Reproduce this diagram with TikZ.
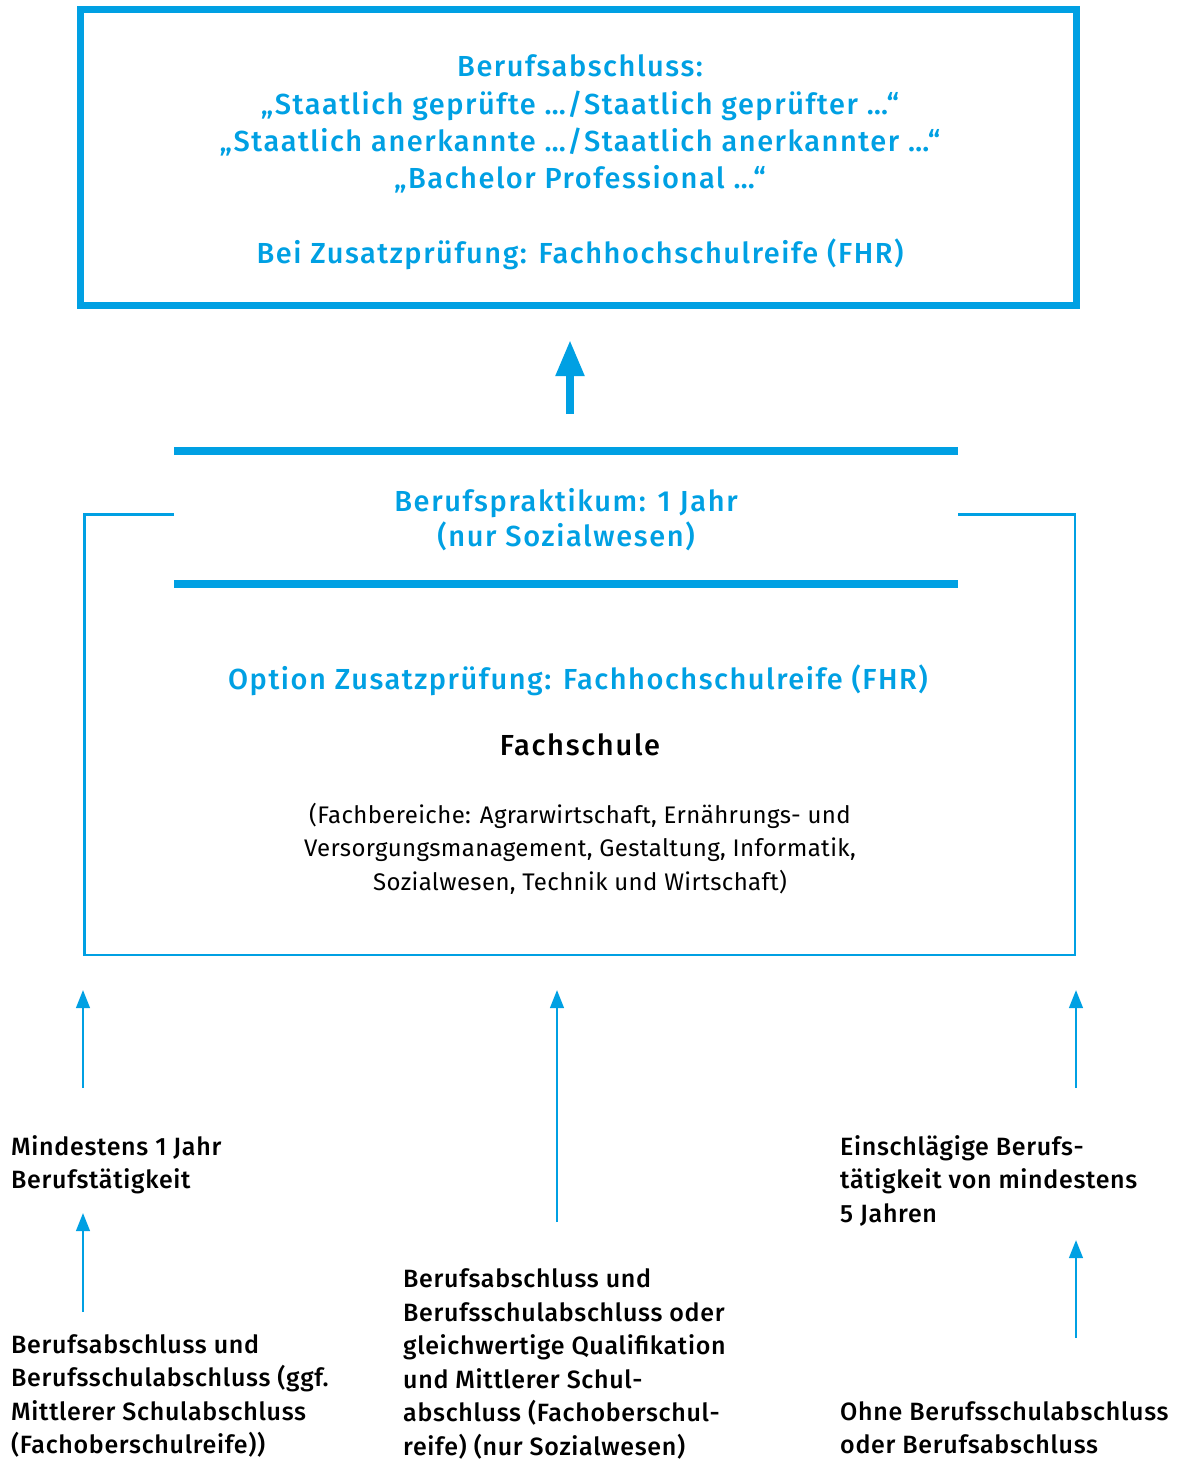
\documentclass[tikz,border=0pt]{standalone}
\usepackage{fontspec}
\setmainfont{Fira Sans}[BoldFont={Fira Sans Medium}]
\usetikzlibrary{arrows.meta}
\definecolor{bpblue}{RGB}{0,160,227}
\newcommand\hstrut{\rule{0pt}{0.9em}}
\begin{document}
\begin{tikzpicture}[x=1pt,y=-1pt,
  bluetxt/.style={text=bpblue, font=\fontsize{29}{37.3}\selectfont\bfseries\addfontfeature{LetterSpace=5.3}, inner sep=0, align=center},
  blacktxt/.style={text=black, font=\fontsize{25}{33.5}\selectfont\bfseries\addfontfeature{LetterSpace=2.8}, inner sep=0, align=left, anchor=north west},
  regtxt/.style={text=black, font=\fontsize{24}{33.4}\selectfont\addfontfeature{LetterSpace=1.6}, inner sep=0, align=center},
  thinarrow/.style={draw=bpblue, line width=2.7pt, -{Triangle[length=18pt,width=13.5pt]}},
  bigarrow/.style={draw=bpblue, line width=8pt, -{Triangle[length=36pt,width=27pt]}},
  thickline/.style={draw=bpblue, line width=8pt},
  thinframe/.style={draw=bpblue, line width=2.5pt},
]
\useasboundingbox (0,0) rectangle (1177,1460);

% top box
\node[draw=bpblue, line width=7pt, minimum width=996pt, minimum height=296.5pt, inner sep=0] (topbox) at (578.5,157.25) {};
\node[bluetxt, anchor=north] (abschluss) at (580,50.6) {\hstrut Berufsabschluss:\\„Staatlich geprüfte …/Staatlich geprüfter …“\\„Staatlich anerkannte …/Staatlich anerkannter …“\\„Bachelor Professional …“};
\node[bluetxt, anchor=base] (fhr) at (580,263.3) {Bei Zusatzprüfung: Fachhochschulreife (FHR)};

% big arrow
\coordinate (bigS) at (570,414);
\coordinate (bigE) at (570,340);
\draw[bigarrow] (bigS) -- (bigE);

% Berufspraktikum band
\draw[thickline] (174,451) -- (958,451);
\draw[thickline] (174,584) -- (958,584);
\node[bluetxt, font=\fontsize{29}{35}\selectfont\bfseries\addfontfeature{LetterSpace=5.6}, anchor=north] (praktikum) at (566,485.6) {\hstrut Berufspraktikum: 1 Jahr\\(nur Sozialwesen)};

% Fachschule frame
\draw[thinframe] (174,514.5) -- (84.5,514.5) -- (84.5,955) -- (1075,955) -- (1075,514.5) -- (958,514.5);
\node[bluetxt, anchor=base] (option) at (578,689.3) {Option Zusatzprüfung: Fachhochschulreife (FHR)};
\node[text=black, font=\fontsize{29}{34}\selectfont\bfseries\addfontfeature{LetterSpace=6}, inner sep=0, anchor=base] (fachschule) at (580,755) {Fachschule};
\node[regtxt, anchor=north] (bereiche) at (580,801.7) {\hstrut (Fachbereiche: Agrarwirtschaft, Ernährungs- und\\Versorgungsmanagement, Gestaltung, Informatik,\\Sozialwesen, Technik und Wirtschaft)};

% bottom texts
\node[blacktxt] (mind) at (11,1132.5) {\hstrut Mindestens 1 Jahr\\Berufstätigkeit};
\node[blacktxt] (leftb) at (11,1330.5) {\hstrut Berufsabschluss und\\Berufsschulabschluss (ggf.\\Mittlerer Schulabschluss\\(Fachoberschulreife))};
\node[blacktxt] (midb) at (403,1264.8) {\hstrut Berufsabschluss und\\Berufsschulabschluss oder\\gleichwertige Qualifikation\\und Mittlerer Schul-\\abschluss (Fachoberschul-\\reife) (nur Sozialwesen)};
\node[blacktxt] (rightt) at (840,1132.5) {\hstrut Einschlägige Berufs-\\tätigkeit von mindestens\\5 Jahren};
\node[blacktxt] (rightb) at (840,1397.5) {\hstrut Ohne Berufsschulabschluss\\oder Berufsabschluss};

% bottom arrows
\coordinate (l1s) at (83,1088);  \coordinate (l1e) at (83,990);
\coordinate (ms) at (557,1222);  \coordinate (me) at (557,990);
\coordinate (r1s) at (1076,1088); \coordinate (r1e) at (1076,990);
\coordinate (l2s) at (83,1312);  \coordinate (l2e) at (83,1213);
\coordinate (r2s) at (1076,1338); \coordinate (r2e) at (1076,1240);
\draw[thinarrow] (l1s) -- (l1e);
\draw[thinarrow] (ms) -- (me);
\draw[thinarrow] (r1s) -- (r1e);
\draw[thinarrow] (l2s) -- (l2e);
\draw[thinarrow] (r2s) -- (r2e);
\end{tikzpicture}
\end{document}
